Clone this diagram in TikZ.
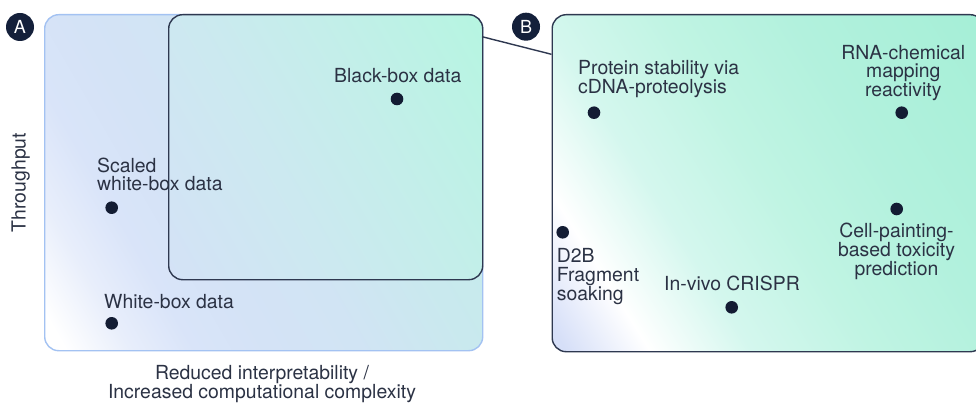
\documentclass[tikz,border=0pt]{standalone}
\usepackage{fontspec}
\setmainfont{TeX Gyre Heros}
\usetikzlibrary{shadings}
\definecolor{textcol}{HTML}{2B3244}
\definecolor{dotcol}{HTML}{131C33}
\definecolor{darkline}{HTML}{2E3850}
\definecolor{lightline}{HTML}{A3C2F2}
\definecolor{badgecol}{HTML}{14203A}
\definecolor{a1}{HTML}{E8EEFB}\definecolor{a2}{HTML}{D9E4F9}\definecolor{a3}{HTML}{D4E3F6}\definecolor{a4}{HTML}{D1E4F4}\definecolor{a5}{HTML}{C9E9EE}\definecolor{a6}{HTML}{C2EEE8}
\definecolor{i1}{HTML}{D4E2F6}\definecolor{i2}{HTML}{CCE9F0}\definecolor{i3}{HTML}{C4EEEA}\definecolor{i4}{HTML}{B6F5E1}
\definecolor{b1}{HTML}{CDD8F5}\definecolor{b2}{HTML}{D6DFF8}\definecolor{b3}{HTML}{D4F7EE}\definecolor{b4}{HTML}{C0F4E3}\definecolor{b5}{HTML}{B2F1DD}\definecolor{b6}{HTML}{A6EFD7}
\pgfdeclarehorizontalshading{shadeAA}{100bp}{color(0bp)=(white); color(18bp)=(white); color(25bp)=(a1); color(32bp)=(a2); color(40bp)=(a3); color(50bp)=(a4); color(62bp)=(a5); color(83bp)=(a6); color(100bp)=(a6)}
\pgfdeclarehorizontalshading{shadeIn}{100bp}{color(0bp)=(i1); color(15.8bp)=(i1); color(41bp)=(i2); color(59bp)=(i3); color(84bp)=(i4); color(100bp)=(i4)}
\pgfdeclarehorizontalshading{shadeB}{100bp}{color(0bp)=(b1); color(17bp)=(b2); color(26bp)=(white); color(37bp)=(b3); color(50bp)=(b4); color(64bp)=(b5); color(83bp)=(b6); color(100bp)=(b6)}
\begin{document}
\begin{tikzpicture}[x=1pt,y=-1pt,
  panel/.style={rectangle, rounded corners=14pt, anchor=north west, inner sep=0pt, line width=1.4pt},
  dot/.style={circle, fill=dotcol, inner sep=0pt, minimum size=12.6pt},
  badge/.style={circle, fill=badgecol, inner sep=0pt, minimum size=28pt, text=white, font=\fontsize{18}{18}\selectfont},
  lbl/.style={text=textcol, inner sep=0pt, font=\fontsize{19.4}{18.8}\selectfont},
  conn/.style={draw=darkline, line width=1.4pt}]
\useasboundingbox (0,0) rectangle (976,403);
\clip (0,0) rectangle (976,403);
% panels
\node[panel, draw=lightline, shading=shadeAA, shading angle=30, minimum width=438pt, minimum height=336pt] (panA) at (44,14) {};
\node[panel, draw=darkline, shading=shadeIn, shading angle=30, minimum width=314pt, minimum height=265pt] (panBB) at (168,14) {};
\node[panel, draw=darkline, shading=shadeB, shading angle=32, minimum width=432pt, minimum height=337pt] (panB) at (551.5,14) {};
% connector
\coordinate (c1) at (482,36.7);
\coordinate (c2) at (551.5,54.3);
\draw[conn] (c1) -- (c2);
% badges
\node[badge] (bA) at (20,27) {A};
\node[badge] (bB) at (526,26.7) {B};
% dots
\node[dot] (dBB) at (397,99) {};
\node[dot] (dSW) at (111.7,207.7) {};
\node[dot] (dWB) at (111.7,323.3) {};
\node[dot] (dPS) at (594,112.7) {};
\node[dot] (dRNA) at (901.7,112.7) {};
\node[dot] (dCP) at (896.7,209) {};
\node[dot] (dD2B) at (562.7,232.3) {};
\node[dot] (dCR) at (731.7,307.3) {};
% labels (base anchor = baseline of the last line)
\node[lbl, anchor=base] (tBB) at (397.8,82.3) {Black-box data};
\node[lbl, anchor=base west, align=left] (tSW) at (97,191) {Scaled\\white-box data};
\node[lbl, anchor=base west] (tWB) at (104,308.7) {White-box data};
\node[lbl, anchor=base west, align=left] (tPS) at (578,93.3) {Protein stability via\\cDNA-proteolysis};
\node[lbl, anchor=base, align=center] (tRNA) at (903.3,96.7) {RNA-chemical\\mapping\\reactivity};
\node[lbl, anchor=base, align=center] (tCP) at (896.5,275.5) {Cell-painting-\\based toxicity\\prediction};
\node[lbl, anchor=base west, align=left] (tD2B) at (556.7,300) {D2B\\Fragment\\soaking};
\node[lbl, anchor=base] (tCR) at (732,290.7) {In-vivo CRISPR};
\node[lbl, anchor=base, rotate=90] (tTP) at (25.7,182.5) {Throughput};
\node[lbl, anchor=base, align=center] (tX) at (262,398.5) {Reduced interpretability /\\Increased computational complexity};
\end{tikzpicture}
\end{document}
